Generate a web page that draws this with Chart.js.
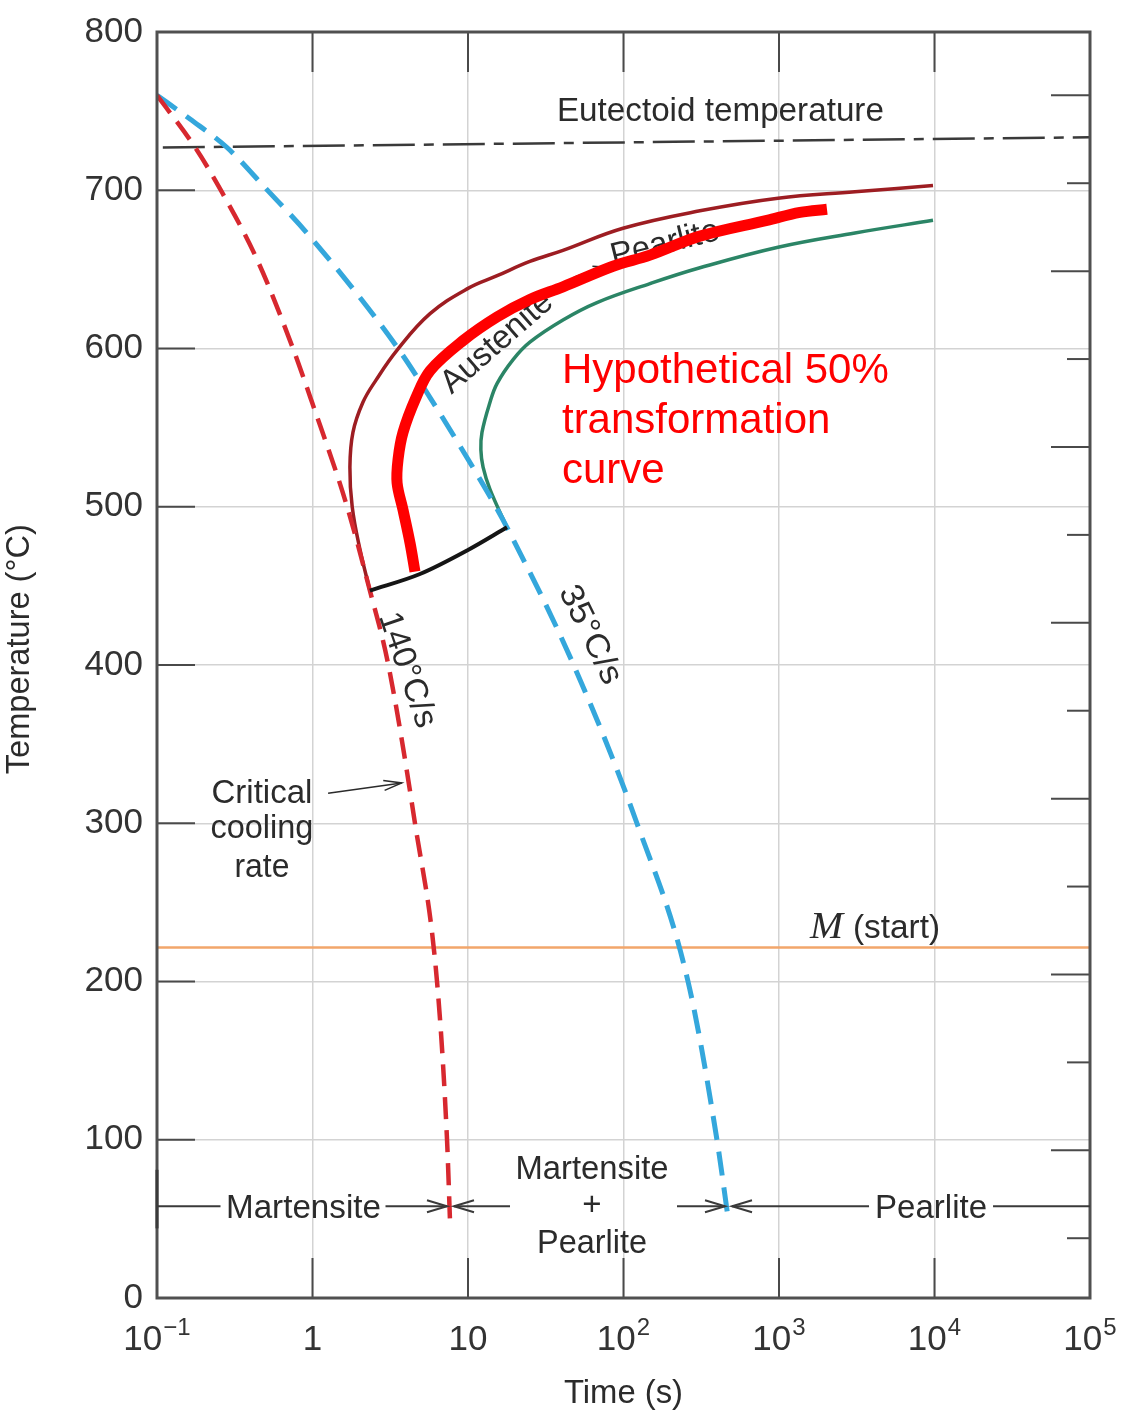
<!DOCTYPE html>
<html lang="en">
<head>
<meta charset="UTF-8">
<title>Continuous cooling transformation diagram</title>
<script src="https://cdn.jsdelivr.net/npm/chart.js"></script>
<style>
  html, body { margin: 0; padding: 0; background: #fff; }
  #wrap { position: relative; width: 1127px; height: 1411px; }
</style>
</head>
<body>
<div id="wrap"><canvas id="cct"></canvas></div>
<script>
// cooling curves and transformation curves: time (s) / temperature (°C)
const critTime = [0.1, 0.176, 0.254, 0.446, 0.749, 0.993, 1.67, 2.34, 3.06, 4.56, 6.32, 7.33, 7.66];
const critTemp = [760, 727, 701, 655, 600, 566, 500, 447, 401, 300, 200, 100, 49];

const slowTime = [0.1, 0.163, 0.282, 0.502, 0.978, 3.55, 5.70, 10, 14.9, 17.8, 47.3, 122, 260, 399, 470];
const slowTemp = [760, 745, 727, 701, 670, 600, 569, 530, 501, 487, 401, 300, 200, 100, 51];

const startTime = [2.34, 2.02, 1.80, 1.74, 1.82, 2.11, 2.56, 3.50, 5.70, 10, 15.4, 25.0, 40.8, 99.3, 310, 985, 3080, 9780];
const startTemp = [447, 473, 500, 525, 547, 566, 580, 599, 622, 638, 646, 655, 662, 676, 687, 695, 699, 703];

const finishTime = [17.8, 13.85, 12.5, 12.1, 12.3, 13.85, 15.4, 19.5, 25.0, 40.8, 67.5, 148, 310, 985, 3080, 9780];
const finishTemp = [487, 511, 525, 536, 547, 566, 578, 593, 604, 618, 629, 641, 651, 664, 673, 681];

const stopTime = [2.34, 4.91, 10, 17.8];
const stopTemp = [447, 457.5, 472.7, 487];

const halfTime = [4.56, 4.24, 3.82, 3.50, 3.55, 3.82, 4.63, 5.70, 9.29, 15.4, 25.0, 40.8, 85.6, 148, 310, 837, 1365, 2035];
const halfTemp = [459, 477, 498, 515, 530, 547, 569, 586, 605, 620, 631, 639, 652, 659, 671, 681, 686, 688];

const eutTime = [0.109, 100000];
const eutTemp = [727, 733.5];

const msTime = [0.1, 100000];
const msTemp = [221.5, 221.5];

// axes
const decades = [0.1, 1, 10, 100, 1000, 10000, 100000];
const timeTickBase = ['10', '1', '10', '10', '10', '10', '10'];
const timeTickExp = ['\u22121', '', '', '2', '3', '4', '5'];
const tempTicks = [0, 100, 200, 300, 400, 500, 600, 700, 800];
const fahrenheitTicks = [100, 200, 300, 400, 500, 600, 700, 800, 900, 1000, 1100, 1200, 1300, 1400];

const SANS = '"Liberation Sans", Arial, sans-serif';
const INK = '#2b2b2b';

function pts(xs, ys) {
    return xs.map((v, i) => ({ x: v, y: ys[i] }));
}

function curve(label, xs, ys, color, width, dash, extra) {
    return Object.assign({
        label: label,
        data: pts(xs, ys),
        borderColor: color,
        borderWidth: width,
        borderDash: dash || [],
        pointRadius: 0,
        tension: 0.4,
        fill: false
    }, extra || {});
}

function seg(ctx, x1, y1, x2, y2) {
    ctx.beginPath();
    ctx.moveTo(x1, y1);
    ctx.lineTo(x2, y2);
    ctx.stroke();
}

// line with an open arrowhead at (x2, y2)
function arrow(ctx, x1, y1, x2, y2, len, half) {
    seg(ctx, x1, y1, x2, y2);
    ctx.save();
    ctx.translate(x2, y2);
    ctx.rotate(Math.atan2(y2 - y1, x2 - x1));
    ctx.beginPath();
    ctx.moveTo(-len, -half);
    ctx.lineTo(0, 0);
    ctx.lineTo(-len, half);
    ctx.stroke();
    ctx.restore();
}

function label(ctx, s, x, y, o) {
    o = o || {};
    ctx.save();
    ctx.translate(x, y);
    if (o.rot) ctx.rotate(o.rot * Math.PI / 180);
    ctx.font = o.font || ('33px ' + SANS);
    ctx.fillStyle = o.color || INK;
    ctx.textAlign = o.align || 'center';
    ctx.textBaseline = o.base || 'alphabetic';
    if (o.w) ctx.scale(o.w / ctx.measureText(s).width, 1);
    ctx.fillText(s, 0, 0);
    ctx.restore();
}

const decor = {
    id: 'decor',
    beforeDatasetsDraw(chart) {
        const { ctx, chartArea: a, scales: { x, y } } = chart;
        const P = (t, T) => [x.getPixelForValue(t), y.getPixelForValue(T)];
        ctx.save();
        ctx.strokeStyle = '#4a4a4a';
        ctx.lineWidth = 2;
        // inner tick marks
        tempTicks.slice(1).forEach(t => {
            const py = y.getPixelForValue(t);
            seg(ctx, a.left, py, a.left + 38, py);
        });
        decades.slice(1, -1).forEach(v => {
            const px = x.getPixelForValue(v);
            seg(ctx, px, a.top, px, a.top + 40);
            seg(ctx, px, a.bottom, px, a.bottom - 40);
        });
        // °F ticks on the right edge
        fahrenheitTicks.forEach(f => {
            const py = y.getPixelForValue((f - 32) / 1.8);
            seg(ctx, a.right - (f % 200 ? 23 : 39), py, a.right, py);
        });

        // Austenite -> Pearlite, sits under the curves
        label(ctx, 'Austenite', ...P(15.4, 603.5), { rot: -41, base: 'middle', w: 137 });
        label(ctx, 'Pearlite', ...P(185, 666), { rot: -14, base: 'middle', w: 111 });
        ctx.strokeStyle = INK;
        ctx.lineWidth = 1.5;
        const p1 = P(48, 645), p2 = P(73, 651.5);
        arrow(ctx, p1[0], p1[1], p2[0], p2[1], 9, 4);
        ctx.restore();
    },
    afterDatasetsDraw(chart) {
        const { ctx, chartArea: a } = chart;
        ctx.save();
        ctx.strokeStyle = '#505050';
        ctx.lineWidth = 3;
        ctx.strokeRect(a.left, a.top, a.right - a.left, a.bottom - a.top);
        ctx.restore();
    },
    afterDraw(chart) {
        const { ctx, chartArea: a, scales: { x, y } } = chart;
        const P = (t, T) => [x.getPixelForValue(t), y.getPixelForValue(T)];
        ctx.save();

        // tick labels
        tempTicks.forEach(t => {
            label(ctx, String(t), a.left - 14, y.getPixelForValue(t), { align: 'right', base: 'middle', font: '35px ' + SANS, color: '#333' });
        });
        decades.forEach((v, i) => {
            const base = timeTickBase[i], sup = timeTickExp[i];
            ctx.font = '35px ' + SANS;
            const wb = ctx.measureText(base).width;
            ctx.font = '24px ' + SANS;
            const ws = sup ? ctx.measureText(sup).width + 1 : 0;
            const left = x.getPixelForValue(v) - (wb + ws) / 2;
            const by = a.bottom + 52;
            label(ctx, base, left, by, { align: 'left', font: '35px ' + SANS, color: '#333' });
            if (sup) label(ctx, sup, left + wb + 1, by - 15, { align: 'left', font: '24px ' + SANS, color: '#333' });
        });

        // axis titles
        label(ctx, 'Temperature (\u00b0C)', 20, y.getPixelForValue(410), { rot: -90, base: 'middle', w: 250 });
        label(ctx, 'Time (s)', (a.left + a.right) / 2, a.bottom + 105, { w: 119 });

        // curve labels
        label(ctx, 'Eutectoid temperature', ...P(420, 744), { w: 327 });
        label(ctx, '140\u00b0C/s', ...P(4.05, 396.8), { rot: 71, base: 'middle', w: 120 });
        label(ctx, '35\u00b0C/s', ...P(60.9, 419), { rot: 64, base: 'middle', w: 106 });

        label(ctx, 'Critical', ...P(0.473, 312.8), { w: 101 });
        label(ctx, 'cooling', ...P(0.473, 290.7), { w: 103 });
        label(ctx, 'rate', ...P(0.473, 266), { w: 55 });
        ctx.strokeStyle = INK;
        ctx.lineWidth = 1.5;
        const c1 = P(1.26, 319), c2 = P(3.75, 325.5);
        arrow(ctx, c1[0], c1[1], c2[0], c2[1], 18, 5);

        label(ctx, 'M', ...P(1582, 227.5), { align: 'left', font: 'italic 38px "Liberation Serif", "Times New Roman", serif', w: 33 });
        label(ctx, '(start)', ...P(2992, 227.5), { align: 'left', w: 87 });

        const red = { align: 'left', font: '42px ' + SANS, color: '#ff0000' };
        label(ctx, 'Hypothetical 50%', ...P(40.2, 578.2), red);
        label(ctx, 'transformation', ...P(40.2, 546.6), red);
        label(ctx, 'curve', ...P(40.2, 515), red);

        // product ranges along the bottom
        const yb = y.getPixelForValue(58);
        const xm = x.getPixelForValue(critTime[critTime.length - 1]);
        const xp = x.getPixelForValue(slowTime[slowTime.length - 1]);
        ctx.strokeStyle = '#3a3a3a';
        ctx.lineWidth = 3;
        seg(ctx, a.left, y.getPixelForValue(81), a.left, y.getPixelForValue(44));
        ctx.lineWidth = 2;

        const cm = (a.left + xm) / 2;
        label(ctx, 'Martensite', cm, yb + 12, { w: 155 });
        seg(ctx, a.left, yb, cm - 83, yb);
        arrow(ctx, cm + 82, yb, xm - 3, yb, 20, 6);

        const cmid = (xm + xp) / 2 + 3;
        label(ctx, 'Martensite', cmid, y.getPixelForValue(75.2), { w: 153 });
        label(ctx, '+', cmid, yb, { base: 'middle' });
        label(ctx, 'Pearlite', cmid, y.getPixelForValue(28.4), { w: 110 });
        arrow(ctx, cmid - 82, yb, xm + 4, yb, 20, 6);
        arrow(ctx, cmid + 85, yb, xp - 3, yb, 20, 6);

        const cp = x.getPixelForValue(9500);
        label(ctx, 'Pearlite', cp, yb + 12, { w: 112 });
        arrow(ctx, cp - 62, yb, xp + 4, yb, 20, 6);
        seg(ctx, cp + 62, yb, a.right, yb);

        ctx.restore();
    }
};

const ctx = document.getElementById('cct').getContext('2d');
const chart = new Chart(ctx, {
    type: 'line',
    data: {
        datasets: [
            curve('Hypothetical 50% transformation', halfTime, halfTemp, '#ff0000', 11, null, { borderJoinStyle: 'round', tension: 0.35 }),
            curve('Transformation stop', stopTime, stopTemp, '#151515', 4, null, { cubicInterpolationMode: 'monotone' }),
            curve('140 °C/s', critTime, critTemp, '#d7282f', 4.5, [22, 11], { cubicInterpolationMode: 'monotone' }),
            curve('35 °C/s', slowTime, slowTemp, '#34a7dc', 5, [24, 12], { cubicInterpolationMode: 'monotone' }),
            curve('Pearlite start', startTime, startTemp, '#9d1d22', 3.5),
            curve('Pearlite finish', finishTime, finishTemp, '#2b8566', 3.5),
            curve('Eutectoid temperature', eutTime, eutTemp, '#3a3a3a', 2.5, [42, 9, 10, 9], { tension: 0 }),
            curve('M (start)', msTime, msTemp, '#f2a66b', 2.5, null, { tension: 0 })
        ]
    },
    options: {
        responsive: true,
        maintainAspectRatio: false,
        animation: false,
        layout: { padding: { left: 157, right: 37, top: 32, bottom: 113 } },
        plugins: {
            legend: { display: false },
            tooltip: { enabled: false }
        },
        scales: {
            x: {
                type: 'logarithmic',
                min: 0.1,
                max: 100000,
                afterBuildTicks: s => { s.ticks = decades.map(v => ({ value: v })); },
                afterFit: s => { s.height = 0; },
                ticks: { display: false },
                grid: { color: '#d3d3d3', lineWidth: 1.5, drawTicks: false },
                border: { display: false }
            },
            y: {
                type: 'linear',
                min: 0,
                max: 800,
                afterBuildTicks: s => { s.ticks = tempTicks.map(v => ({ value: v })); },
                afterFit: s => { s.width = 0; },
                ticks: { display: false },
                grid: { color: '#d3d3d3', lineWidth: 1.5, drawTicks: false },
                border: { display: false }
            }
        }
    },
    plugins: [decor]
});
</script>
</body>
</html>
